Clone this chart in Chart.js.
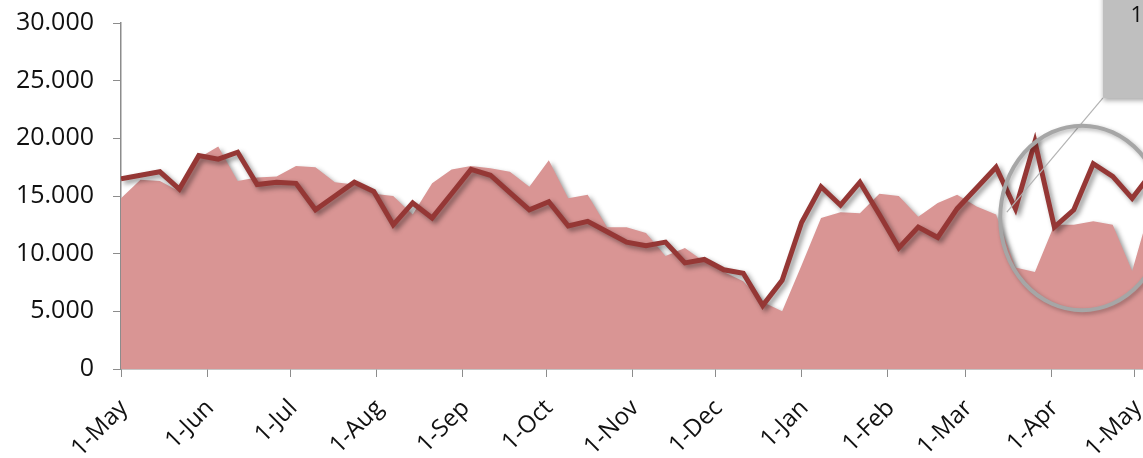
<!DOCTYPE html>
<html><head><meta charset="utf-8">
<script src="https://cdn.jsdelivr.net/npm/chart.js@4.4.0/dist/chart.umd.min.js"></script>
<style>
html,body{margin:0;padding:0;background:#fff;overflow:hidden;width:1143px;height:458px}
#wrap{position:relative;width:1160px;height:458px}
canvas{display:block}
</style></head>
<body><div id="wrap"><canvas id="c" width="1160" height="458"></canvas></div>
<script>
// Month-start tick labels and their day offsets from 1-May
const tickLabels = ['1-May','1-Jun','1-Jul','1-Aug','1-Sep','1-Oct','1-Nov','1-Dec','1-Jan','1-Feb','1-Mar','1-Apr','1-May'];
const tickDays   = [0,31,61,92,123,153,184,214,245,276,304,335,365];
const weekLength = 7;

// Weekly values (line series)
const lineValues = [16500,16800,17100,15600,18500,18200,18800,16000,16200,16100,
  13800,15000,16200,15400,12500,14400,13100,15200,17300,16800,
  15300,13800,14500,12400,12800,11900,11000,10700,11000,9200,
  9500,8600,8300,5500,7700,12700,15800,14200,16200,13400,
  10500,12300,11400,13900,15700,17500,13900,19700,12300,13800,
  17800,16700,14800,17000];

// Weekly values (area series)
const areaValues = [14800,16400,16300,15400,18300,19300,16300,16600,16700,17600,
  17500,16200,16000,15200,15000,13400,16100,17300,17600,17400,
  17100,15800,18100,14800,15100,12300,12300,11800,9800,10500,
  9300,8400,7600,5800,5000,9000,13100,13600,13500,15200,
  15000,13200,14400,15100,14100,13400,8800,8400,12500,12500,
  12800,12500,8500,14400];

const yMin = 0, yMax = 30000, yStep = 5000;

// Annotation (data units)
const circleBox = {x1:316.5, x2:375.5, y1:5100, y2:21100};
const leader = {fromX:353.5, fromY:23500, toX:318.9, toY:13600};
const callout = {x1:353.5, x2:420, y1:23500, y2:34000, text:'1', textX:363.4, textY:30600};

function fmt(v){ return v===0 ? '0' : String(v).replace(/\B(?=(\d{3})+(?!\d))/g,'.'); }

const shadowPlugin = {
  id:'shadow',
  beforeDatasetsDraw(chart){ const c=chart.ctx; c.save(); c.shadowColor='rgba(0,0,0,0.42)'; c.shadowBlur=5; c.shadowOffsetX=3; c.shadowOffsetY=3; },
  afterDatasetsDraw(chart){ chart.ctx.restore(); }
};

const calloutPlugin = {
  id:'callout',
  afterDraw(chart){
    const {ctx, scales:{x, y}} = chart;
    ctx.save();
    ctx.strokeStyle='#b3b3b3'; ctx.lineWidth=1.2;
    ctx.beginPath();
    ctx.moveTo(x.getPixelForValue(leader.fromX), y.getPixelForValue(leader.fromY));
    ctx.lineTo(x.getPixelForValue(leader.toX), y.getPixelForValue(leader.toY));
    ctx.stroke();
    const cx1=x.getPixelForValue(circleBox.x1), cx2=x.getPixelForValue(circleBox.x2);
    const cy1=y.getPixelForValue(circleBox.y2), cy2=y.getPixelForValue(circleBox.y1);
    ctx.shadowColor='rgba(0,0,0,0.3)'; ctx.shadowBlur=4; ctx.shadowOffsetX=2; ctx.shadowOffsetY=2;
    ctx.strokeStyle='#a6a6a6'; ctx.lineWidth=4;
    ctx.beginPath();
    ctx.ellipse((cx1+cx2)/2,(cy1+cy2)/2,(cx2-cx1)/2,(cy2-cy1)/2,0,0,Math.PI*2);
    ctx.stroke();
    const bx1=x.getPixelForValue(callout.x1), bx2=x.getPixelForValue(callout.x2);
    const by1=y.getPixelForValue(callout.y2), by2=y.getPixelForValue(callout.y1);
    ctx.shadowColor='rgba(0,0,0,0.35)'; ctx.shadowBlur=5; ctx.shadowOffsetX=0; ctx.shadowOffsetY=3;
    ctx.fillStyle='#bfbfbf';
    ctx.fillRect(bx1,by1,bx2-bx1,by2-by1);
    ctx.shadowColor='transparent';
    ctx.fillStyle='#111';
    ctx.font='22px "Open Sans"';
    ctx.textAlign='left'; ctx.textBaseline='middle';
    ctx.fillText(callout.text, x.getPixelForValue(callout.textX), y.getPixelForValue(callout.textY));
    ctx.restore();
  }
};

Chart.defaults.font.family = '"Open Sans", sans-serif';
Chart.defaults.color = '#111';

new Chart(document.getElementById('c'), {
  type:'line',
  data:{
    datasets:[
      {label:'line', data: lineValues.map((v,i)=>({x:i*weekLength, y:v})),
       borderColor:'#953735', borderWidth:5, pointRadius:0, tension:0,
       borderJoinStyle:'miter', fill:false, order:1},
      {label:'area', data: areaValues.map((v,i)=>({x:i*weekLength, y:v})),
       borderColor:'rgba(0,0,0,0)', borderWidth:0, backgroundColor:'#d99594',
       pointRadius:0, tension:0, fill:'origin', order:2}
    ]
  },
  options:{
    responsive:false, animation:false, devicePixelRatio:1,
    layout:{padding:{top:23, right:8.4, left:0, bottom:0}},
    plugins:{legend:{display:false}, tooltip:{enabled:false}},
    scales:{
      x:{type:'linear', min:0, max:(lineValues.length-1)*weekLength,
        afterBuildTicks(s){ s.ticks = tickDays.map(v=>({value:v})); },
        afterFit(s){ s.height = 89; s.paddingLeft = 0; s.paddingRight = 0; },
        ticks:{autoSkip:false, minRotation:45, maxRotation:45, padding:17, labelOffset:3,
          font:{size:24}, callback:(v)=>{ const i=tickDays.indexOf(v); return i>=0?tickLabels[i]:''; }},
        grid:{display:true, drawOnChartArea:false, drawTicks:true, tickLength:8, color:'#8c8c8c'},
        border:{display:true, color:'#8c8c8c', width:1.5}
      },
      y:{min:yMin, max:yMax,
        afterFit(s){ s.width = 121; s.paddingTop = 0; s.paddingBottom = 0; },
        ticks:{stepSize:yStep, padding:19, font:{size:25}, callback:(v)=>fmt(v)},
        grid:{display:true, drawOnChartArea:false, drawTicks:true, tickLength:8, color:'#8c8c8c'},
        border:{display:true, color:'#8c8c8c', width:1.5}
      }
    }
  },
  plugins:[shadowPlugin, calloutPlugin]
});
</script>
</body></html>
